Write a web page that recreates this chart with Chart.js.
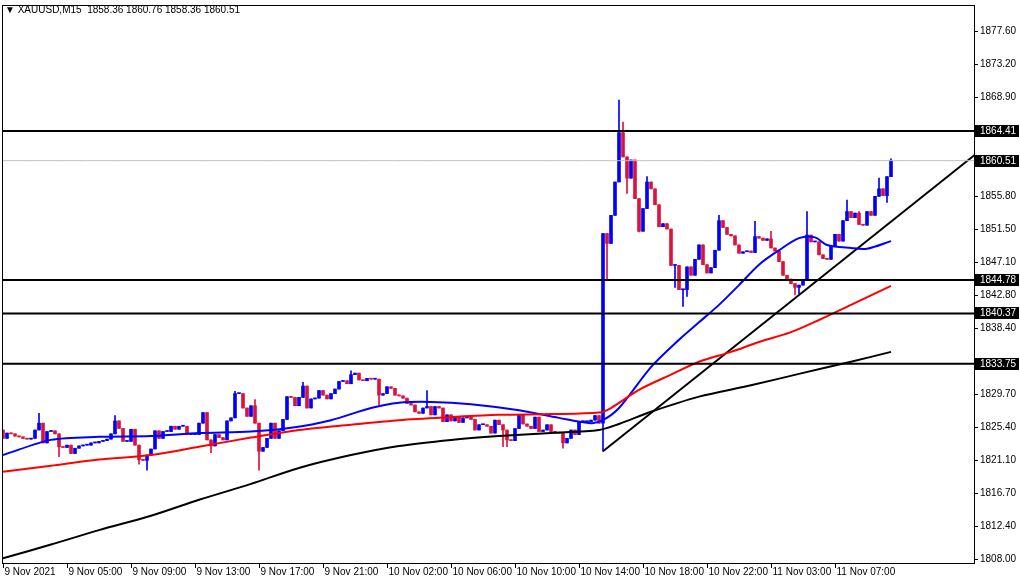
<!DOCTYPE html>
<html>
<head>
<meta charset="utf-8">
<script src="https://cdn.jsdelivr.net/npm/chart.js@4"></script>
<style>
  html, body { margin: 0; padding: 0; background: #fff; }
  #wrap { width: 1020px; height: 583px; position: relative; }
</style>
</head>
<body>
<div id="wrap"><canvas id="c"></canvas></div>
<script>
// closes of each M15 candle (open = previous close)
const firstOpen = 1825.0;
const closes = [
  1823.9,1824.6,1824.5,1824.2,1824.1,1823.9,1823.8,1823.9,1825.0,1825.9,
  1823.3,1824.8,1824.9,1824.5,1822.8,1822.7,1823.0,1821.9,1822.6,1822.9,
  1823.0,1823.0,1823.3,1823.3,1823.5,1823.6,1823.8,1824.5,1826.2,1825.2,
  1823.5,1823.5,1825.1,1823.0,1821.1,1821.0,1821.7,1822.5,1824.9,1823.9,
  1824.8,1824.8,1825.5,1825.1,1825.5,1825.5,1824.4,1824.4,1824.4,1825.9,
  1827.3,1823.7,1822.9,1824.4,1824.0,1823.7,1826.2,1826.6,1829.8,1829.8,
  1827.9,1826.8,1828.2,1825.9,1822.2,1822.7,1823.9,1825.9,1823.9,1824.9,
  1826.4,1829.4,1829.3,1828.2,1829.3,1830.8,1827.9,
  1829.1,1829.2,1830.2,1829.6,1829.1,1829.8,1830.4,1831.4,1831.5,1831.1,
  1832.3,1832.5,1831.6,1831.5,1831.8,1831.7,1831.7,1829.6,1829.8,1830.7,
  1830.5,1829.6,1829.5,1829.2,1828.5,1828.3,1827.4,1827.2,1827.9,1828.1,
  1827.0,1828.1,1827.9,1826.1,1827.0,1826.2,1826.7,1826.0,1826.6,1826.8,
  1826.4,1825.0,1825.7,1825.7,1825.5,1824.6,1826.3,1825.7,1825.0,1823.7,
  1823.6,1825.2,1827.0,1825.8,1825.5,1825.2,1826.7,1824.8,1825.0,1825.7,
  1824.8,1824.7,1824.6,1823.3,1823.9,1825.0,1824.4,1826.1,1826.1,1826.1,
  1826.3,1826.9,1825.9,
  1850.9,1849.6,1853.3,1857.7,1864.2,1861.0,1858.2,1860.6,1855.5,1851.2,
  1854.2,1857.7,1856.8,1854.7,1851.8,1852.2,1851.5,1846.7,1846.7,1843.5,
  1843.5,1846.5,1845.4,1847.5,1849.4,1846.8,1845.7,1846.4,1848.7,1852.6,
  1851.7,1850.8,1850.6,1849.4,1848.3,1848.5,1848.6,1848.4,1850.5,1850.3,
  1850.0,1850.2,1849.0,1848.6,1847.2,1845.4,1844.9,1844.3,1843.8,1844.1,
  1844.8,1850.7,1849.8,1849.8,1848.1,1847.6,1847.5,1849.2,1850.8,1849.9,
  1852.6,1853.8,1853.0,1853.6,1852.1,1852.0,1853.8,1853.3,1855.8,1856.8,
  1855.9,1858.4,1860.51
];
// visible wick extremes: [candle index, price]
const wickHighs = [
  [9,1827.2],[28,1826.9],[58,1830.1],[63,1829.0],[75,1831.3],[87,1832.8],
  [106,1830.2],[150,1850.9],[154,1868.5],[155,1865.6],[157,1860.6],[161,1858.4],
  [164,1854.6],[179,1853.3],[188,1852.5],[192,1851.2],[201,1853.8],[211,1855.3],
  [214,1853.8],[219,1858.2],[222,1860.76]
];
const wickLows = [
  [14,1821.5],[34,1820.5],[36,1819.7],[52,1822.0],[64,1819.7],[94,1828.3],
  [125,1822.8],[126,1822.8],[140,1822.6],[150,1822.2],[151,1844.7],[156,1856.2],
  [159,1851.1],[168,1843.8],[170,1841.3],[171,1842.6],[198,1842.8],[199,1842.9],
  [221,1855.0]
];
// moving averages: [candle index, price]
const maBlue = [
  [0,1821.7],[12,1823.7],[24,1824.1],[37,1824.2],[49,1824.6],[62,1824.8],[72,1825.3],
  [82,1826.3],[92,1827.9],[99,1828.6],[107,1828.7],[117,1828.4],[129,1827.6],[139,1826.6],
  [147,1825.9],[150,1826.3],[154,1827.9],[162,1833.3],[169,1836.9],[174,1839.2],
  [179,1841.5],[184,1844.1],[189,1846.8],[194,1848.7],[199,1850.3],[203,1850.4],
  [206,1849.4],[212,1849.0],[216,1848.9],[222,1849.9]
];
const maRed = [
  [0,1819.5],[12,1820.3],[24,1821.1],[37,1821.7],[49,1822.8],[62,1824.0],[74,1825.0],
  [87,1825.7],[99,1826.3],[112,1826.7],[124,1827.0],[137,1827.1],[149,1827.3],
  [152,1827.9],[159,1830.3],[167,1832.3],[174,1834.0],[182,1835.3],[189,1836.6],
  [197,1837.9],[204,1839.5],[212,1841.5],[222,1844.0]
];
const maBlack = [
  [0,1808.1],[12,1809.9],[24,1811.8],[37,1813.7],[49,1815.8],[62,1817.9],[74,1820.0],
  [87,1821.7],[99,1822.9],[112,1823.7],[124,1824.2],[137,1824.6],[149,1825.0],
  [154,1825.8],[162,1827.4],[174,1829.4],[187,1830.9],[199,1832.4],[212,1834.0],[222,1835.3]
];
const trendLine = [[150,1822.2],[243,1861.3]];
const levels = [1864.41, 1844.78, 1840.37, 1833.75];
const lastPrice = 1860.51;
const yTicks = [1877.60,1873.20,1868.90,1855.80,1851.50,1847.10,1842.80,1838.40,1829.70,1825.40,1821.10,1816.70,1812.40,1808.00];
const xLabels = ['9 Nov 2021','9 Nov 05:00','9 Nov 09:00','9 Nov 13:00','9 Nov 17:00','9 Nov 21:00',
  '10 Nov 02:00','10 Nov 06:00','10 Nov 10:00','10 Nov 14:00','10 Nov 18:00','10 Nov 22:00',
  '11 Nov 03:00','11 Nov 07:00'];
const title = '\u25BC XAUUSD,M15  1858.36 1860.76 1858.36 1860.51';

const BLUE = '#0000ff', RED = '#dc143c';
const X_MIN = -0.25, X_MAX = 242.75;

const bodies = [], wicks = [], colors = [];
const hiMap = Object.fromEntries(wickHighs), loMap = Object.fromEntries(wickLows);
closes.forEach((c, i) => {
  const o = i === 0 ? firstOpen : closes[i - 1];
  bodies.push({ x: i, y: [o, c] });
  colors.push(c >= o ? BLUE : RED);
  const hi = Math.max(o, c, hiMap[i] ?? -Infinity);
  const lo = Math.min(o, c, loMap[i] ?? Infinity);
  wicks.push({ x: i, y: [lo, hi] });
});
const pts = arr => arr.map(([x, y]) => ({ x, y }));
const hline = v => [{ x: X_MIN, y: v }, { x: X_MAX, y: v }];
const lineDs = (data, color, w) => ({ type: 'line', data, borderColor: color, borderWidth: w,
  pointRadius: 0, tension: 0.3, fill: false });

const frame = {
  id: 'frame',
  afterDraw(chart) {
    const { ctx, chartArea: a, scales: { x, y } } = chart;
    ctx.save();
    ctx.strokeStyle = '#000'; ctx.lineWidth = 1;
    ctx.strokeRect(a.left + 0.5, a.top + 0.5, a.right - a.left, a.bottom - a.top);
    ctx.font = '10px "Liberation Sans", sans-serif';
    ctx.textBaseline = 'middle'; ctx.fillStyle = '#000';
    yTicks.forEach(v => {
      const py = Math.round(y.getPixelForValue(v)) + 0.5;
      ctx.beginPath(); ctx.moveTo(a.right, py); ctx.lineTo(a.right + 4, py); ctx.stroke();
      ctx.fillText(v.toFixed(2), a.right + 6, py);
    });
    [...levels, lastPrice].forEach(v => {
      const py = Math.round(y.getPixelForValue(v));
      ctx.fillStyle = '#000';
      ctx.fillRect(a.right + 1, py - 6, 44, 12);
      ctx.fillStyle = '#fff';
      ctx.fillText(v.toFixed(2), a.right + 6, py);
    });
    ctx.fillStyle = '#000'; ctx.textBaseline = 'top';
    xLabels.forEach((t, k) => {
      const px = Math.round(x.getPixelForValue(k * 16)) + 0.5;
      ctx.beginPath(); ctx.moveTo(px, a.bottom); ctx.lineTo(px, a.bottom + 5); ctx.stroke();
      ctx.fillText(t, px + 1, a.bottom + 4);
    });
    ctx.fillText(title, 5, 5);
    ctx.restore();
  }
};

new Chart(document.getElementById('c'), {
  type: 'bar',
  data: {
    datasets: [
      ...levels.map(v => lineDs(hline(v), '#000', 2)),
      lineDs(hline(lastPrice), '#c0c0c0', 1),
      lineDs(pts(maBlack), '#000', 2),
      lineDs(pts(maRed), '#ff0000', 2),
      lineDs(pts(maBlue), BLUE, 2),
      lineDs(pts(trendLine), '#000', 2),
      { data: wicks, backgroundColor: colors, barThickness: 1, grouped: false },
      { data: bodies, backgroundColor: colors, barThickness: 3, grouped: false, minBarLength: 1 }
    ]
  },
  options: {
    responsive: true, maintainAspectRatio: false, animation: false,
    layout: { padding: { left: 2, right: 46, top: 5, bottom: 20 } },
    plugins: { legend: { display: false }, tooltip: { enabled: false } },
    scales: {
      x: { type: 'linear', min: X_MIN, max: X_MAX, offset: false, display: false },
      y: { min: 1807.47, max: 1881.03, display: false }
    }
  },
  plugins: [frame]
});
</script>
</body>
</html>
